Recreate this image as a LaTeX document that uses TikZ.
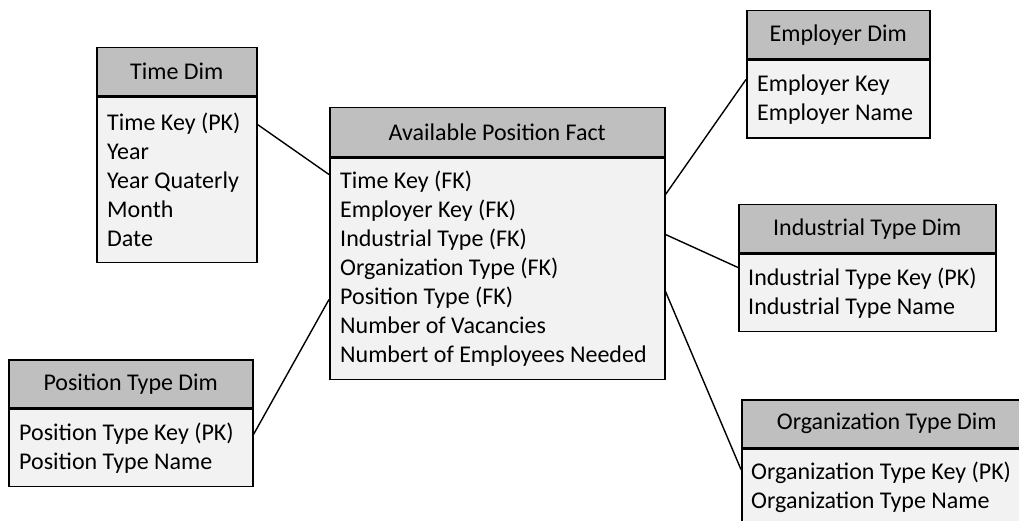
\documentclass[tikz,border=0pt]{standalone}
\usepackage{fontspec}
\setmainfont{Carlito}
\definecolor{hdrgray}{HTML}{BFBFBF}
\definecolor{bodygray}{HTML}{F2F2F2}
\begin{document}
\begin{tikzpicture}[x=1pt,y=-1pt,
  tfont/.style={font=\fontsize{24}{29}\selectfont},
  hdr/.style={draw=black, line width=1.5pt, fill=hdrgray, anchor=north west,
    inner sep=0pt, minimum height=48pt, tfont},
  tbody/.style={draw=black, line width=1.5pt, fill=bodygray, anchor=north west,
    inner sep=0pt},
  rows/.style={anchor=west, inner sep=0pt, align=left, tfont},
  conn/.style={draw=black, line width=1.4pt}]
\clip (0,0) rectangle (1019,521);
\fill[white] (0,0) rectangle (1019,521);

% Time Dim
\node[hdr, minimum width=160pt] (th) at (96,47) {Time Dim};
\node[tbody, minimum width=160pt, minimum height=165pt] (tb) at (th.south west) {};
\node[rows] (tt) at ([xshift=11pt]tb.west)
  {Time Key (PK)\\Year\\Year Quaterly\\Month\\Date};

% Fact
\node[hdr, minimum width=335pt, minimum height=49pt] (fh) at (329,107) {Available Position Fact};
\node[tbody, minimum width=335pt, minimum height=221pt] (fb) at (fh.south west) {};
\node[rows] (ft) at ([xshift=11pt]fb.west)
  {Time Key (FK)\\Employer Key (FK)\\Industrial Type (FK)\\Organization Type (FK)\\Position Type (FK)\\Number of Vacancies\\Numbert of Employees Needed};

% Position Type Dim
\node[hdr, minimum width=244pt] (ph) at (8,359) {Position Type Dim};
\node[tbody, minimum width=244pt, minimum height=77pt] (pb) at (ph.south west) {};
\node[rows] (pt) at ([xshift=11pt]pb.west)
  {Position Type Key (PK)\\Position Type Name};

% Employer Dim
\node[hdr, minimum width=183pt] (eh) at (746,10) {Employer Dim};
\node[tbody, minimum width=183pt, minimum height=78pt] (eb) at (eh.south west) {};
\node[rows] (et) at ([xshift=11pt]eb.west)
  {Employer Key\\Employer Name};

% Industrial Type Dim
\node[hdr, minimum width=257pt] (ih) at (738,204) {Industrial Type Dim};
\node[tbody, minimum width=257pt, minimum height=77pt] (ib) at (ih.south west) {};
\node[rows] (it) at ([xshift=10pt]ib.west)
  {Industrial Type Key (PK)\\Industrial Type Name};

% Organization Type Dim
\node[hdr, minimum width=290pt] (oh) at (741,399) {Organization Type Dim};
\node[tbody, minimum width=290pt, minimum height=77pt] (ob) at (oh.south west) {};
\node[rows] (ot) at ([xshift=10pt]ob.west)
  {Organization Type Key (PK)\\Organization Type Name};

% connectors
\draw[conn] ([yshift=-28pt]tb.north east) -- ([yshift=-17pt]fb.north west);
\draw[conn] ([yshift=-26pt]pb.north east) -- ([yshift=-142pt]fb.north west);
\draw[conn] ([yshift=-37pt]fb.north east) -- ([yshift=-20pt]eb.north west);
\draw[conn] ([yshift=-77pt]fb.north east) -- ([yshift=-14pt]ib.north west);
\draw[conn] ([yshift=-134pt]fb.north east) -- ([yshift=-21pt]ob.north west);
\end{tikzpicture}
\end{document}
